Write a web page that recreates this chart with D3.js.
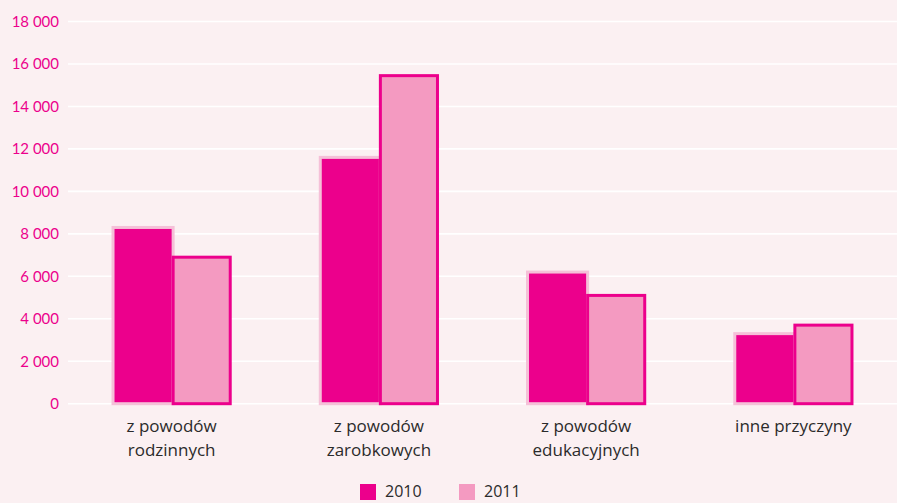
<!DOCTYPE html>
<html>
<head>
<meta charset="utf-8">
<script src="https://cdn.jsdelivr.net/npm/d3@7"></script>
<style>
  html, body { margin: 0; padding: 0; background: #fbf0f2; }
  svg { display: block; }
</style>
</head>
<body>
<svg id="chart" width="897" height="503"></svg>
<script>
const categories = [
  ['z powodów', 'rodzinnych'],
  ['z powodów', 'zarobkowych'],
  ['z powodów', 'edukacyjnych'],
  ['inne przyczyny']
]
const seriesNames = ['2010', '2011']
const values2010 = [8300, 11600, 6200, 3300]
const values2011 = [6900, 15450, 5100, 3700]
const yTicks = [0, 2000, 4000, 6000, 8000, 10000, 12000, 14000, 16000, 18000]

const magenta = '#ec008c'
const lightPink = '#f49ac1'
const paleBorder = '#f5c0d8'

const svg = d3.select('#chart')
const width = +svg.attr('width')
const height = +svg.attr('height')

svg.append('rect').attr('width', width).attr('height', height).attr('fill', '#fbf0f2')

const y = d3.scaleLinear().domain([0, 18000]).range([403.7, 21.5])
const x0 = d3.scaleBand().domain(d3.range(categories.length))
  .range([68, 897]).paddingInner(0.42).paddingOuter(0.21)
const x1 = d3.scaleBand().domain(seriesNames).range([0, x0.bandwidth()])

const fmt = v => d3.format(',')(v).replace(/,/g, ' ')

// grid
svg.append('g').selectAll('line').data(yTicks).enter().append('line')
  .attr('x1', 68).attr('x2', width)
  .attr('y1', d => y(d)).attr('y2', d => y(d))
  .attr('stroke', '#ffffff').attr('stroke-width', 1.6)

// y axis labels
const yAxis = svg.append('g').attr('transform', 'translate(66,0)')
  .call(d3.axisLeft(y).tickValues(yTicks).tickFormat(fmt).tickSize(0).tickPadding(7))
yAxis.select('.domain').remove()
yAxis.selectAll('text')
  .attr('fill', magenta)
  .style('font-family', 'Lato, "Noto Sans", sans-serif')
  .style('font-size', '15px')

const data = categories.map((c, i) => ({ i, vals: [values2010[i], values2011[i]] }))

const groups = svg.append('g').selectAll('g').data(data).enter().append('g')
  .attr('transform', d => `translate(${x0(d.i)},0)`)

// 2010 bars (right border tucked under the 2011 bar)
groups.append('rect')
  .attr('x', x1('2010') + 1.5)
  .attr('width', x1.bandwidth())
  .attr('y', d => y(d.vals[0]))
  .attr('height', d => y(0) - y(d.vals[0]))
  .attr('fill', magenta)
  .attr('stroke', paleBorder)
  .attr('stroke-width', 3)

// 2011 bars
groups.append('rect')
  .attr('x', x1('2011') + 1.5)
  .attr('width', x1.bandwidth() - 3)
  .attr('y', d => y(d.vals[1]))
  .attr('height', d => y(0) - y(d.vals[1]))
  .attr('fill', lightPink)
  .attr('stroke', magenta)
  .attr('stroke-width', 3)

// category labels
groups.append('text')
  .attr('x', x0.bandwidth() / 2)
  .attr('text-anchor', 'middle')
  .attr('fill', '#2b2b2b')
  .style('font-family', '"Open Sans", "Noto Sans", sans-serif')
  .style('font-size', '17px')
  .selectAll('tspan').data(d => categories[d.i]).enter().append('tspan')
  .attr('x', x0.bandwidth() / 2)
  .attr('y', (d, j) => 432 + j * 23.5)
  .text(d => d)

// legend
const legend = svg.append('g').selectAll('g').data(seriesNames).enter().append('g')
  .attr('transform', (d, i) => `translate(${360 + i * 99},484)`)
legend.append('rect').attr('width', 16).attr('height', 16)
  .attr('fill', (d, i) => i === 0 ? magenta : lightPink)
legend.append('text').attr('x', 25).attr('y', 13)
  .attr('fill', '#2b2b2b')
  .style('font-family', '"Open Sans", "Noto Sans", sans-serif')
  .style('font-size', '16px')
  .text(d => d)
</script>
</body>
</html>
